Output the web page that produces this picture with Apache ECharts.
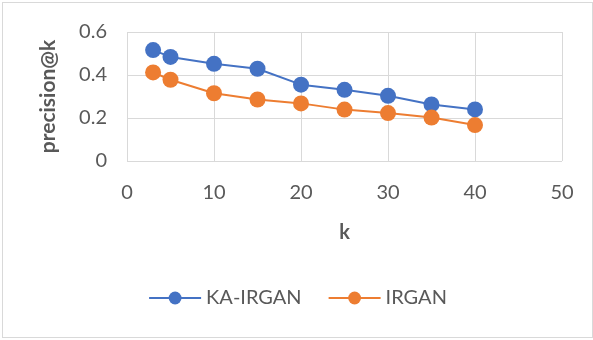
<!DOCTYPE html>
<html>
<head>
<meta charset="utf-8">
<script src="https://cdn.jsdelivr.net/npm/echarts@6/dist/echarts.min.js"></script>
<style>
  html, body { margin: 0; padding: 0; background: #fff; }
  #chart { width: 591px; height: 336px; border: 1px solid #d9d9d9; margin: 2px 0 0 2px; box-sizing: border-box; }
</style>
</head>
<body>
<div id="chart"></div>
<script>
const kValues = [3, 5, 10, 15, 20, 25, 30, 35, 40];
const kaIrgan = [0.516, 0.484, 0.452, 0.429, 0.355, 0.331, 0.303, 0.263, 0.240];
const irgan = [0.412, 0.378, 0.315, 0.286, 0.268, 0.239, 0.223, 0.202, 0.167];

const textColor = '#595959';
const font = 'Lato, "Open Sans", sans-serif';

const chart = echarts.init(document.getElementById('chart'));

const makeSeries = (name, values, color) => ({
  name,
  type: 'line',
  data: kValues.map((k, i) => [k, values[i]]),
  symbol: 'circle',
  symbolSize: 16,
  lineStyle: { color, width: 2 },
  itemStyle: { color },
  animation: false,
});

chart.setOption({
  textStyle: { fontFamily: font },
  grid: { left: 124, top: 29, right: 30, bottom: 176 },
  xAxis: {
    type: 'value',
    min: 0,
    max: 50,
    interval: 10,
    name: 'k',
    nameLocation: 'middle',
    nameGap: 62,
    nameTextStyle: { color: textColor, fontSize: 20, fontWeight: 'bold', fontFamily: font },
    axisLine: { show: false },
    axisTick: { show: false },
    axisLabel: { color: textColor, fontSize: 20, margin: 22, fontFamily: font },
    splitLine: { show: true, lineStyle: { color: '#d9d9d9', width: 1 } },
  },
  yAxis: {
    type: 'value',
    min: 0,
    max: 0.6,
    interval: 0.2,
    name: 'precision@k',
    nameLocation: 'middle',
    nameGap: 68,
    nameTextStyle: { color: textColor, fontSize: 21, fontWeight: 'bold', fontFamily: font },
    axisLine: { show: false },
    axisTick: { show: false },
    axisLabel: {
      color: textColor, fontSize: 20, margin: 20, fontFamily: font,
      formatter: v => (v === 0 ? '0' : v.toFixed(1)),
    },
    splitLine: { show: true, lineStyle: { color: '#d9d9d9', width: 1 } },
  },
  legend: {
    bottom: 24,
    left: 'center',
    itemWidth: 52,
    itemHeight: 16,
    itemGap: 26,
    textStyle: { color: textColor, fontSize: 20, fontFamily: font },
    data: ['KA-IRGAN', 'IRGAN'],
  },
  series: [
    makeSeries('KA-IRGAN', kaIrgan, '#4472c4'),
    makeSeries('IRGAN', irgan, '#ed7d31'),
  ],
});
</script>
</body>
</html>
